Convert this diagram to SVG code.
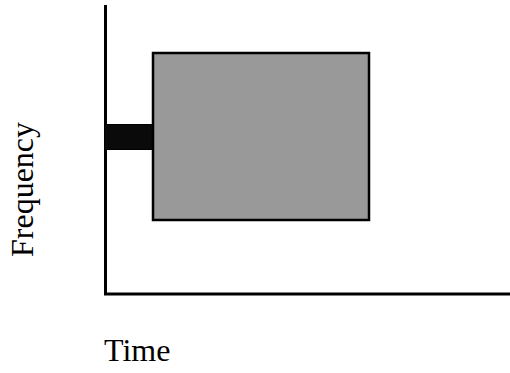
<svg xmlns="http://www.w3.org/2000/svg" width="510" height="373" viewBox="0 0 510 373">
<style>
.lbl{font-family:"Liberation Serif","Times New Roman",serif;font-size:32px;fill:#000}
.ax{stroke:#000;stroke-width:3;fill:none}
</style>
<rect width="510" height="373" fill="#fff"/>
<g id="axes" class="ax">
<line x1="105.5" y1="5" x2="105.5" y2="295"/>
<line x1="104" y1="294" x2="510" y2="294"/>
</g>
<g id="bar">
<rect x="104.5" y="124.5" width="48.5" height="25" fill="#0a0a0a" stroke="#000" stroke-width="1"/>
</g>
<g id="block">
<rect x="153" y="53" width="216" height="167" fill="#999" stroke="#000" stroke-width="2.5"/>
</g>
<g id="labels">
<text class="lbl" x="104" y="361">Time</text>
<text class="lbl" transform="translate(33,257) rotate(-90)">Frequency</text>
</g>
</svg>
